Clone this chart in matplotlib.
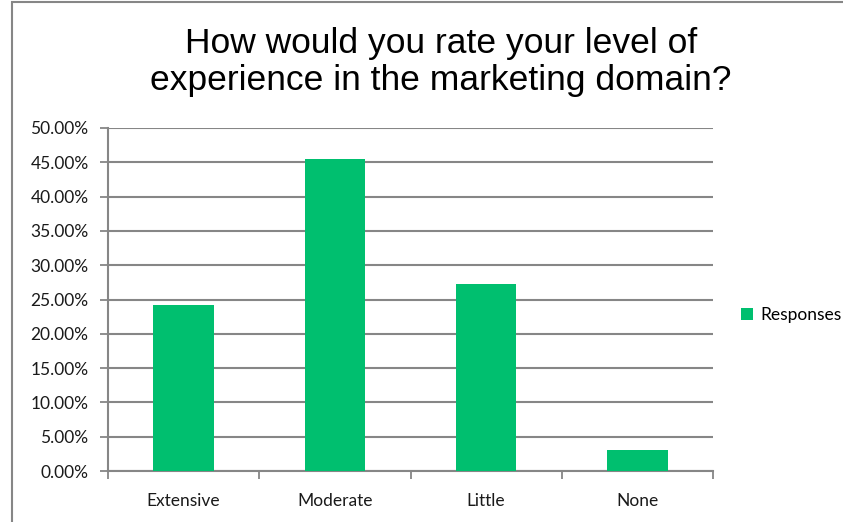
import numpy as np
import matplotlib
matplotlib.use("Agg")
import matplotlib.pyplot as plt
from matplotlib.patches import Rectangle

# data
categories = ["Extensive", "Moderate", "Little", "None"]
responses = [24.24, 45.45, 27.27, 3.03]
yticks = [0, 5, 10, 15, 20, 25, 30, 35, 40, 45, 50]
series_name = "Responses"
title = "How would you rate your level of\nexperience in the marketing domain?"

green = "#00BF6F"
grey = "#868686"
tick_font = "Lato"

fig = plt.figure(figsize=(8.43, 5.22), dpi=100)
ax = fig.add_axes([108/843, 1 - 471/522, 605/843, 343/522])

x = np.arange(len(categories))
ax.bar(x, responses, width=0.4, color=green, label=series_name, zorder=3)

ax.set_xlim(-0.5, len(categories) - 0.5)
ax.set_ylim(0, 50)
ax.set_yticks(yticks)
ax.set_yticklabels([f"{v:.2f}%" for v in yticks], fontsize=12.5, family=tick_font, color="#1a1a1a")
ax.set_xticks(x)
ax.set_xticklabels(categories, fontsize=12.5, family=tick_font, color="#1a1a1a")
ax.set_xticks(np.arange(-0.5, len(categories)), minor=True)

ax.grid(axis="y", color=grey, linewidth=1.5, zorder=0)
ax.tick_params(axis="x", which="major", length=0, pad=16)
ax.tick_params(axis="x", which="minor", length=6, width=1.3, color=grey, direction="out")
ax.tick_params(axis="y", length=6, width=1.3, color=grey, pad=8)

for s in ["top", "right"]:
    ax.spines[s].set_visible(False)
for s in ["left", "bottom"]:
    ax.spines[s].set_color(grey)
    ax.spines[s].set_linewidth(1.5)

fig.text(0.523, 0.881, title, ha="center", va="center", fontsize=25.5,
         family="Liberation Sans", linespacing=1.15)

leg = fig.legend(loc="center left", bbox_to_anchor=(734/843, 1 - 315/522), frameon=False,
                 prop={"family": tick_font, "size": 12.5}, handlelength=0.7, handleheight=0.7,
                 handletextpad=0.4, borderaxespad=0)

# outer chart frame, cut off by the picture on right and bottom
fig.patches.append(Rectangle((12/843, -0.1), 1.2, 1 - 2/522 + 0.1, transform=fig.transFigure,
                             fill=False, edgecolor=grey, linewidth=1.5))

fig.savefig("out.png", dpi=100)
